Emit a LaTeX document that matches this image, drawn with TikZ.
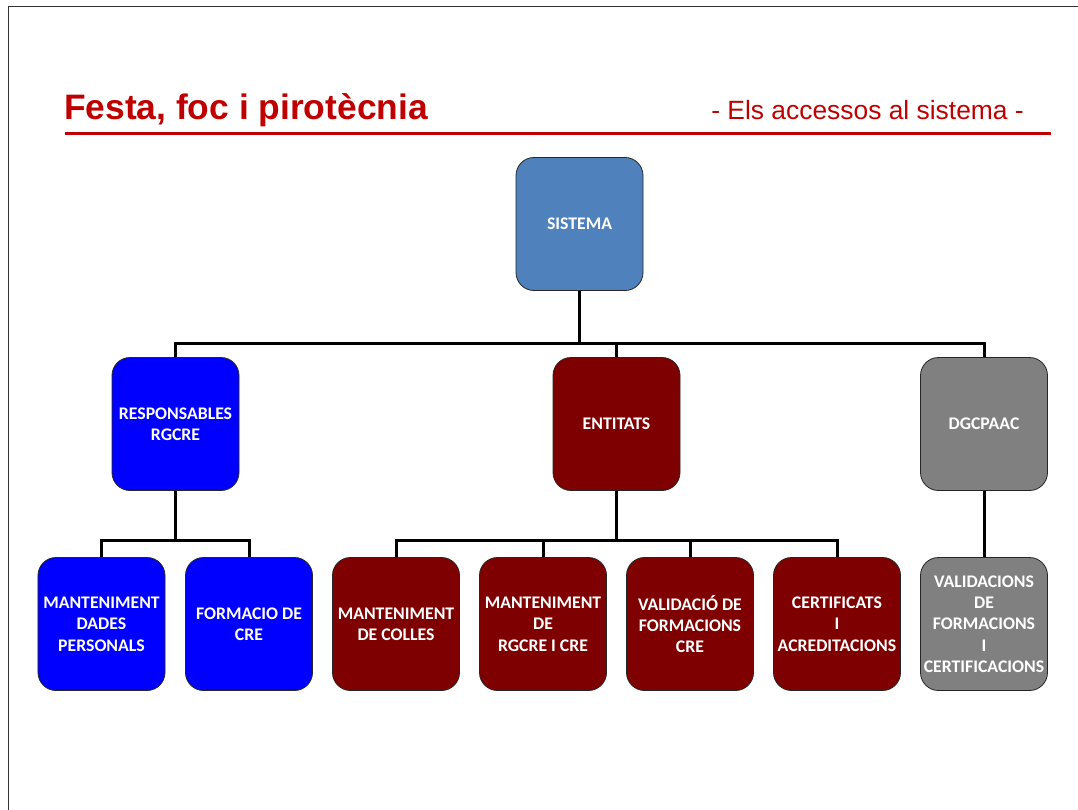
\documentclass[tikz,border=0pt]{standalone}
\usepackage{fontspec}
\setmainfont{Carlito}
\newfontfamily\arialfont{Liberation Sans}
\definecolor{titlered}{HTML}{C00000}
\definecolor{sisblue}{HTML}{4F81BD}
\definecolor{respblue}{HTML}{0000FF}
\definecolor{entred}{HTML}{7F0000}
\definecolor{dggray}{HTML}{808080}
\tikzset{
    box/.style={draw=black!85, line width=0.8bp, rounded corners=18bp, minimum width=127bp,
        minimum height=133bp, inner sep=0pt, align=center, text=white,
        font=\bfseries\fontsize{17.8}{21.4}\selectfont},
    conn/.style={line width=3bp, black}
}
\begin{document}
\begin{tikzpicture} [x=1bp, y=-1bp]
    \useasboundingbox (0,0) rectangle (1078,810);
    \draw[line width=1.5bp, black!80] (8.5,810) -- (8.5,6.5) -- (1078,6.5);
    \node[anchor=base west, inner sep=0pt, text=titlered] (title) at (64,119.5)
        {\arialfont\bfseries\fontsize{35.5}{40}\selectfont Festa, foc i pirotècnia};
    \node[anchor=base east, inner sep=0pt, text=titlered] (subtitle) at (1024,119.5)
        {\arialfont\fontsize{26.5}{30}\selectfont - Els accessos al sistema -};
    \draw[titlered, line width=2.8bp] (65,133.5) -- (1051,133.5);
    \node[box, fill=sisblue] (sis) at (579.5,224) {SISTEMA};
    \node[box, fill=respblue] (resp) at (175.5,424) {RESPONSABLES\\RGCRE};
    \node[box, fill=entred] (ent) at (616.5,424) {ENTITATS};
    \node[box, fill=dggray] (dgc) at (984,424) {DGCPAAC};
    \node[box, fill=respblue] (mdades) at (101.5,624) {MANTENIMENT\\DADES\\PERSONALS};
    \node[box, fill=respblue] (fcre) at (249,624) {FORMACIO DE\\CRE};
    \node[box, fill=entred] (mcolles) at (396,624) {MANTENIMENT\\DE COLLES};
    \node[box, fill=entred] (mrgcre) at (543,624) {MANTENIMENT\\DE\\RGCRE I CRE};
    \node[box, fill=entred] (vform) at (690,624) {VALIDACIÓ DE\\FORMACIONS\\CRE};
    \node[box, fill=entred] (cert) at (837,624) {CERTIFICATS\\I\\ACREDITACIONS};
    \node[box, fill=dggray] (vcert) at (984,624) {VALIDACIONS\\DE\\FORMACIONS\\I\\CERTIFICACIONS};
    \draw[conn] (sis.south) -- ++(0,53) coordinate (top bus) -| (resp.north);
    \draw[conn] (top bus) -| (ent.north);
    \draw[conn] (top bus) -| (dgc.north);
    \draw[conn] (resp.south) -- ++(0,50) coordinate (resp bus) -| (mdades.north);
    \draw[conn] (resp bus) -| (fcre.north);
    \draw[conn] (ent.south) -- ++(0,50) coordinate (ent bus) -| (mcolles.north);
    \draw[conn] (ent bus) -| (mrgcre.north);
    \draw[conn] (ent bus) -| (vform.north);
    \draw[conn] (ent bus) -| (cert.north);
    \draw[conn] (dgc.south) -- (vcert.north);
\end{tikzpicture}
\end{document}
